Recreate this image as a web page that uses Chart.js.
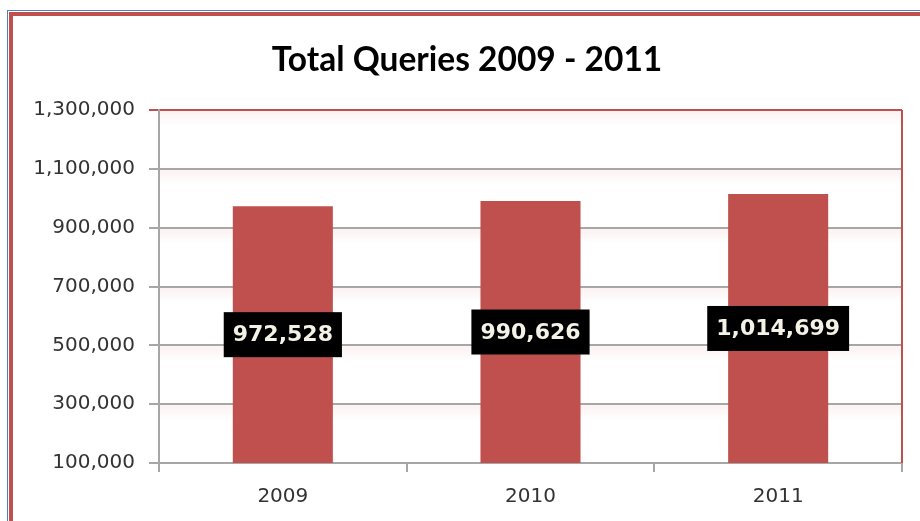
<!DOCTYPE HTML>
<html>

<head>
    <title>Total Queries 2009 - 2011</title>
    <meta name="viewport" content="width=device-width, initial-scale=1">
    <script src="https://cdn.jsdelivr.net/npm/chart.js@4.4.1/dist/chart.umd.min.js"></script>
    <style>
        html,
        body {
            margin: 0;
            padding: 0;
            width: 920px;
            height: 521px;
            overflow: hidden;
            background: #ffffff;
        }

        #frame {
            position: absolute;
            left: 7px;
            top: 10px;
            width: 940px;
            height: 540px;
            border-left: 1px solid #4f81bd;
            border-top: 1px solid #4f81bd;
            padding-left: 1px;
            padding-top: 1px;
        }

        #inner {
            width: 100%;
            height: 100%;
            border-left: 4px solid #c0504d;
            border-top: 4px solid #c0504d;
        }

        #chart-box {
            position: absolute;
            left: 13px;
            top: 16px;
            width: 907px;
            height: 505px;
        }
    </style>
</head>

<body>
    <div id="frame"><div id="inner"></div></div>
    <div id="chart-box">
        <canvas id="queries"></canvas>
    </div>
    <script>
        const years = ['2009', '2010', '2011'];
        const totalQueries = [972528, 990626, 1014699];
        const yTicks = [100000, 300000, 500000, 700000, 900000, 1100000, 1300000];

        const barRed = '#c0504d';
        const gridGray = '#a6a6a6';
        const fmt = v => v.toLocaleString('en-US');

        // faint pink shadow under each gridline, like the spreadsheet export
        const gridShadow = {
            id: 'gridShadow',
            beforeDatasetsDraw(chart) {
                const { ctx, chartArea, scales } = chart;
                ctx.save();
                yTicks.forEach(t => {
                    if (t === yTicks[0]) return;
                    const y = scales.y.getPixelForValue(t);
                    const g = ctx.createLinearGradient(0, y + 1, 0, y + 16);
                    g.addColorStop(0, 'rgba(235,170,170,0.16)');
                    g.addColorStop(1, 'rgba(235,170,170,0)');
                    ctx.fillStyle = g;
                    ctx.fillRect(chartArea.left + 1, y + 1, chartArea.right - chartArea.left - 1, 15);
                });
                // right edge of the plot area
                ctx.strokeStyle = barRed;
                ctx.lineWidth = 2;
                ctx.beginPath();
                ctx.moveTo(chartArea.right, chartArea.top);
                ctx.lineTo(chartArea.right, chartArea.bottom);
                ctx.stroke();
                ctx.restore();
            }
        };

        // black value boxes in the middle of each visible bar
        const valueBoxes = {
            id: 'valueBoxes',
            afterDatasetsDraw(chart) {
                const { ctx, chartArea } = chart;
                const meta = chart.getDatasetMeta(0);
                ctx.save();
                ctx.font = 'bold 22px "DejaVu Sans"';
                ctx.textAlign = 'center';
                ctx.textBaseline = 'middle';
                meta.data.forEach((bar, i) => {
                    const txt = fmt(totalQueries[i]);
                    const w = ctx.measureText(txt).width + 18;
                    const h = 45;
                    const base = Math.min(bar.base, chartArea.bottom);
                    const cy = (bar.y + base) / 2;
                    ctx.fillStyle = '#000000';
                    ctx.fillRect(bar.x - w / 2, cy - h / 2, w, h);
                    ctx.fillStyle = '#f4f2e6';
                    ctx.fillText(txt, bar.x, cy + 1);
                });
                ctx.restore();
            }
        };

        const c = new Chart(document.getElementById('queries'), {
            type: 'bar',
            data: {
                labels: years,
                datasets: [{
                    label: 'Total Queries',
                    data: totalQueries,
                    backgroundColor: barRed,
                    categoryPercentage: 1,
                    barPercentage: 0.404
                }]
            },
            options: {
                responsive: true,
                maintainAspectRatio: false,
                animation: false,
                layout: { padding: { left: 19, right: 18, top: 0, bottom: 0 } },
                plugins: {
                    legend: { display: false },
                    tooltip: { enabled: false },
                    title: {
                        display: true,
                        text: 'Total Queries 2009 - 2011',
                        color: '#000000',
                        font: { family: 'Lato', size: 33.5, weight: 'bold', lineHeight: 1.2 },
                        padding: { top: 24, bottom: 29.8 }
                    }
                },
                scales: {
                    x: {
                        afterFit(s) { s.height = 58; },
                        grid: {
                            display: true,
                            offset: true,
                            drawOnChartArea: false,
                            drawTicks: true,
                            tickLength: 9,
                            color: gridGray,
                            lineWidth: 2
                        },
                        border: { color: gridGray, width: 2 },
                        ticks: {
                            color: '#333333',
                            padding: 13,
                            font: { family: 'DejaVu Sans', size: 20 }
                        }
                    },
                    y: {
                        min: 100000,
                        max: 1300000,
                        afterFit(s) { s.width = 127; },
                        afterBuildTicks(s) { s.ticks = yTicks.map(v => ({ value: v })); },
                        grid: {
                            color: ctx => ctx.tick && ctx.tick.value === 1300000 ? barRed : gridGray,
                            lineWidth: 2,
                            tickLength: 10
                        },
                        border: { color: gridGray, width: 2 },
                        ticks: {
                            color: '#333333',
                            padding: 14,
                            font: { family: 'DejaVu Sans', size: 20 },
                            callback: v => fmt(v)
                        }
                    }
                }
            },
            plugins: [gridShadow, valueBoxes]
        });
    </script>
</body>

</html>
